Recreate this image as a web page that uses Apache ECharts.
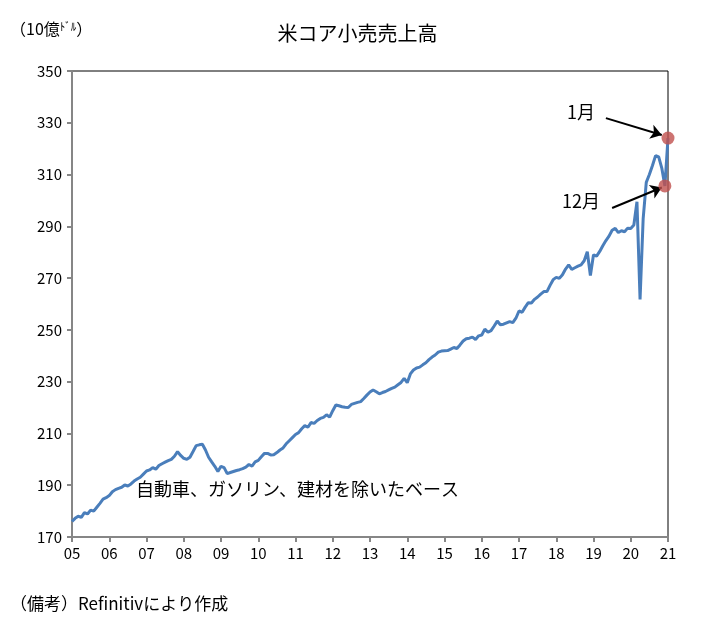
<!DOCTYPE html>
<html>
<head>
<meta charset="utf-8">
<script src="https://cdn.jsdelivr.net/npm/echarts@6/dist/echarts.min.js"></script>
<style>
html,body{margin:0;padding:0;background:#fff;}
#chart{width:715px;height:624px;}
</style>
</head>
<body>
<div id="chart"></div>
<script>
// Monthly values (10億ドル), Jan 2005 - Jan 2021
const v2005 = [176.0,177.2,178.0,177.6,179.4,178.9,180.4,180.0,181.5,183.0,184.6,185.2];
const v2006 = [186.0,187.5,188.3,188.8,189.2,190.1,189.7,190.5,191.6,192.4,193.1,194.3];
const v2007 = [195.5,195.9,196.8,196.2,197.6,198.3,198.9,199.5,200.0,201.2,203.0,201.5];
const v2008 = [200.4,200.0,200.8,203.0,205.3,205.6,205.8,203.6,200.8,199.0,197.3,195.3];
const v2009 = [197.3,196.8,194.5,194.9,195.3,195.7,196.0,196.4,197.0,198.0,197.4,199.0];
const v2010 = [199.6,201.0,202.3,202.3,201.7,201.8,202.6,203.6,204.4,206.0,207.2,208.4];
const v2011 = [209.6,210.3,211.8,213.0,212.4,214.2,213.9,215.0,215.8,216.2,217.2,216.3];
const v2012 = [218.8,221.0,220.7,220.3,220.1,220.0,221.2,221.6,222.0,222.3,223.5,224.8];
const v2013 = [226.0,226.8,226.1,225.3,225.8,226.2,226.8,227.4,227.9,228.8,229.7,231.3];
const v2014 = [229.6,233.0,234.5,235.3,235.6,236.5,237.3,238.5,239.5,240.3,241.4,241.8];
const v2015 = [241.9,242.0,242.6,243.2,242.8,244.2,245.7,246.6,246.8,247.2,246.3,247.7];
const v2016 = [248.0,250.3,249.1,249.7,251.5,253.4,252.0,252.2,252.7,253.2,252.8,254.5];
const v2017 = [257.3,256.8,258.8,260.5,260.4,261.8,262.7,263.8,264.8,264.8,267.2,269.4];
const v2018 = [270.3,269.9,271.3,273.5,275.1,273.4,274.0,274.6,275.1,276.7,280.2,271.0];
const v2019 = [279.0,278.5,280.3,282.5,284.5,286.2,288.5,289.2,287.6,288.3,287.9,289.3];
const v2020 = [289.2,290.5,299.5,261.8,293.0,307.0,310.0,313.5,317.3,316.8,312.5,305.6];
const v2021 = [324.1];

const yearLabels = ['05','06','07','08','09','10','11','12','13','14','15','16','17','18','19','20','21'];
const yTicks = {min:170, max:350, interval:20};

const values = [].concat(v2005,v2006,v2007,v2008,v2009,v2010,v2011,v2012,v2013,v2014,v2015,v2016,v2017,v2018,v2019,v2020,v2021);
const categories = values.map((v,i) => yearLabels[Math.floor(i/12)] + '-' + String(i%12+1).padStart(2,'0'));

const decIdx = values.length - 2;
const janIdx = values.length - 1;

const FONT = '"Noto Sans CJK JP", "Noto Sans", sans-serif';
const chart = echarts.init(document.getElementById('chart'), null, {renderer:'canvas'});

chart.setOption({
  animation: false,
  backgroundColor: '#ffffff',
  textStyle: {fontFamily: FONT},
  title: {
    text: '米コア小売売上高',
    left: 'center',
    top: 18,
    textStyle: {fontFamily: FONT, fontSize: 20, fontWeight: 'normal', color: '#000'}
  },
  grid: {left: 72, right: 47, top: 71, bottom: 87, show: true, borderColor: '#000', borderWidth: 1, backgroundColor: 'transparent'},
  xAxis: {
    type: 'category',
    data: categories,
    boundaryGap: false,
    axisLine: {lineStyle: {color: '#868686', width: 2}},
    axisTick: {show: true, interval: (i) => i % 12 === 0, length: 5, lineStyle: {color: '#868686', width: 2}},
    axisLabel: {
      interval: (i) => i % 12 === 0,
      formatter: (v) => v.split('-')[0],
      color: '#000', fontSize: 15, fontFamily: FONT, margin: 9
    },
    splitLine: {show: false}
  },
  yAxis: {
    type: 'value',
    min: yTicks.min, max: yTicks.max, interval: yTicks.interval,
    axisLine: {show: true, lineStyle: {color: '#868686', width: 2}},
    axisTick: {show: true, length: 5, lineStyle: {color: '#868686', width: 2}},
    axisLabel: {color: '#000', fontSize: 15, fontFamily: FONT, margin: 10},
    splitLine: {show: false}
  },
  series: [
    {
      type: 'line',
      data: values,
      symbol: 'none',
      lineStyle: {color: '#4a7ebb', width: 3},
      z: 2,
      markLine: {
        silent: true,
        symbol: ['none', 'arrow'],
        symbolSize: 11,
        label: {show: false},
        lineStyle: {color: '#000', width: 2, type: 'solid'},
        data: [
          [{coord: [172, 331.8]}, {coord: [190, 325.3]}],
          [{coord: [174, 297.1]}, {coord: [190, 305.0]}]
        ]
      }
    },
    {
      type: 'scatter',
      data: [[decIdx, values[decIdx]], [janIdx, values[janIdx]]],
      symbolSize: 13,
      itemStyle: {color: '#c0504d'},
      z: 5
    }
  ],
  graphic: [
    {type: 'text', left: 10, top: 21, style: {
      text: '{a|（10億}{b|ﾄﾞﾙ}{a|）}',
      rich: {a: {fontSize: 16, fontFamily: FONT, fill: '#000'}, b: {fontSize: 11, fontFamily: FONT, fill: '#000', verticalAlign: 'top'}}
    }},
    {type: 'text', left: 567, top: 103, style: {text: '1月', fontSize: 18, fontFamily: FONT, fill: '#000'}},
    {type: 'text', left: 562, top: 192, style: {text: '12月', fontSize: 18, fontFamily: FONT, fill: '#000'}},
    {type: 'text', left: 136, top: 480, style: {text: '自動車、ガソリン、建材を除いたベース', fontSize: 18, fontFamily: FONT, fill: '#000'}},
    {type: 'text', left: 10, top: 595, style: {text: '（備考）Refinitivにより作成', fontSize: 17, fontFamily: FONT, fill: '#000'}}
  ]
});
</script>
</body>
</html>
